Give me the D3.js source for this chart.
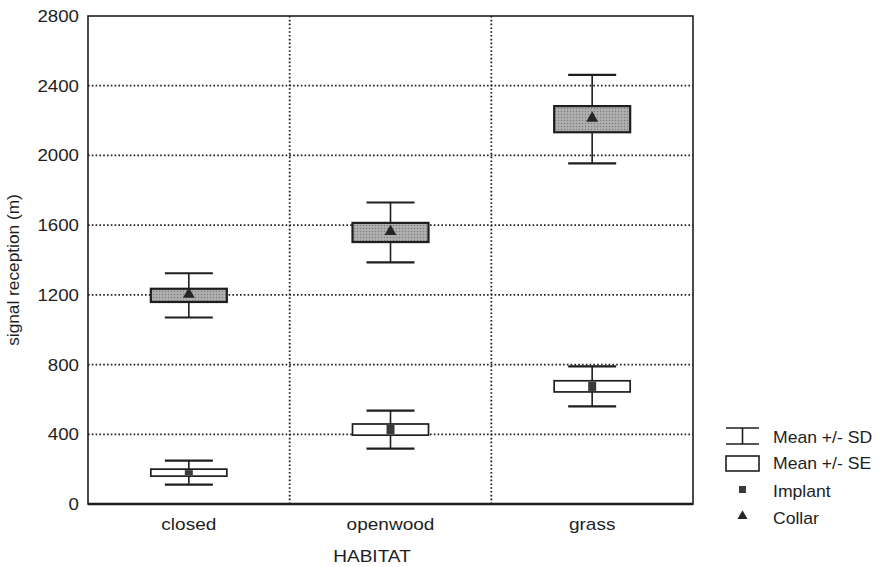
<!DOCTYPE html>
<html><head><meta charset="utf-8">
<script src="https://cdn.jsdelivr.net/npm/d3@7"></script>
<style>html,body{margin:0;padding:0;background:#fff;}svg{display:block;}</style>
</head><body>
<script>
const categories = ["closed", "openwood", "grass"];
const implantMean = [180, 427, 675];
const implantSE = [20, 32, 32];
const implantSD = [69, 109, 115];
const collarMean = [1197, 1558, 2208];
const collarSE = [38, 55, 75];
const collarSD = [127, 172, 254];
const yTicks = [0, 400, 800, 1200, 1600, 2000, 2400, 2800];
const legendLabels = ["Mean +/- SD", "Mean +/- SE", "Implant", "Collar"];

const W = 882, H = 567;
const m = {left: 88, right: 693, top: 16, bottom: 504};
const FONT = "'Liberation Sans', Arial, sans-serif";
const ink = "#1e1e1e";

const svg = d3.select("body").append("svg").attr("width", W).attr("height", H);
const defs = svg.append("defs");
const pat = defs.append("pattern").attr("id", "stip").attr("width", 3).attr("height", 3)
  .attr("patternUnits", "userSpaceOnUse");
pat.append("rect").attr("width", 3).attr("height", 3).attr("fill", "#a8a8a8");
pat.append("rect").attr("x", 0).attr("y", 0).attr("width", 1).attr("height", 1).attr("fill", "#7c7c7c");
pat.append("rect").attr("x", 1.5).attr("y", 1.5).attr("width", 1).attr("height", 1).attr("fill", "#c8c8c8");

const y = d3.scaleLinear().domain([0, 2800]).range([m.bottom, m.top]);
const x = d3.scaleBand().domain(categories).range([m.left, m.right]).padding(0);
const cx = c => x(c) + x.bandwidth() / 2;

function txt(g, xx, yy, s, size, anchor, sx) {
  sx = sx || 1.12;
  return g.append("text")
    .attr("transform", `translate(${xx},${yy}) scale(${sx},1)`)
    .attr("text-anchor", anchor).attr("font-family", FONT).attr("font-size", size)
    .attr("fill", ink).text(s);
}

// grid
const grid = svg.append("g");
yTicks.filter(t => t > 0 && t < 2800).forEach(t => {
  grid.append("line").attr("x1", m.left).attr("x2", m.right).attr("y1", y(t)).attr("y2", y(t))
    .attr("stroke", ink).attr("stroke-width", 1.8).attr("stroke-dasharray", "1.6,2.2");
});
categories.slice(1).forEach(c => {
  grid.append("line").attr("x1", x(c)).attr("x2", x(c)).attr("y1", m.top).attr("y2", m.bottom)
    .attr("stroke", ink).attr("stroke-width", 1.8).attr("stroke-dasharray", "1.6,2.2");
});

// y axis via d3
const yAxis = d3.axisLeft(y).tickValues(yTicks).tickFormat(d3.format("d")).tickSize(0).tickPadding(9);
const ya = svg.append("g").attr("transform", `translate(${m.left},0)`).call(yAxis);
ya.select(".domain").remove();
ya.selectAll(".tick text").attr("font-family", FONT).attr("font-size", 17).attr("fill", ink)
  .attr("transform", "scale(1.1,1)").attr("x", -9 / 1.1);

// x category labels
categories.forEach(c => txt(svg, cx(c), 530, c, 17, "middle"));

// frame
svg.append("rect").attr("x", m.left).attr("y", m.top).attr("width", m.right - m.left)
  .attr("height", m.bottom - m.top).attr("fill", "none").attr("stroke", ink).attr("stroke-width", 1.6);
svg.append("line").attr("x1", m.left).attr("x2", m.right).attr("y1", m.bottom).attr("y2", m.bottom)
  .attr("stroke", ink).attr("stroke-width", 2.4);

// boxes
const boxW = 76, capW = 48;
function drawSeries(means, se, sd, fill, sw) {
  categories.forEach((c, i) => {
    const g = svg.append("g");
    const xc = cx(c);
    g.append("line").attr("x1", xc).attr("x2", xc).attr("y1", y(means[i] + sd[i])).attr("y2", y(means[i] - sd[i]))
      .attr("stroke", ink).attr("stroke-width", 1.6);
    [means[i] + sd[i], means[i] - sd[i]].forEach(v => {
      g.append("line").attr("x1", xc - capW / 2).attr("x2", xc + capW / 2).attr("y1", y(v)).attr("y2", y(v))
        .attr("stroke", ink).attr("stroke-width", 2.2);
    });
    g.append("rect").attr("x", xc - boxW / 2).attr("y", y(means[i] + se[i]))
      .attr("width", boxW).attr("height", y(means[i] - se[i]) - y(means[i] + se[i]))
      .attr("fill", fill).attr("stroke", ink).attr("stroke-width", sw);
  });
}
drawSeries(implantMean, implantSE, implantSD, "#fff", 1.7);
drawSeries(collarMean, collarSE, collarSD, "url(#stip)", 2.2);

// markers
categories.forEach((c, i) => {
  const xc = cx(c);
  svg.append("rect").attr("x", xc - 4).attr("y", y(implantMean[i] + implantSE[i]) + 1)
    .attr("width", 8).attr("height", y(implantMean[i] - implantSE[i]) - y(implantMean[i] + implantSE[i]) - 2)
    .attr("fill", "#3a3a3a");
  svg.append("path").attr("d", d3.symbol().type(d3.symbolTriangle).size(62)())
    .attr("transform", `translate(${xc},${y(collarMean[i]) - 1})`).attr("fill", "#262626");
});

// axis titles
svg.append("text").attr("transform", `translate(19,${(m.top + m.bottom) / 2 + 10}) rotate(-90) scale(1.08,1)`)
  .attr("text-anchor", "middle").attr("font-family", FONT).attr("font-size", 16).attr("fill", ink)
  .text("signal reception (m)");
txt(svg, 372, 562, "HABITAT", 17, "middle");

// legend
const lg = svg.append("g");
const lx0 = 726, lx1 = 759, lxc = 742.5, tx = 773;
lg.append("line").attr("x1", lx0).attr("x2", lx1).attr("y1", 428).attr("y2", 428).attr("stroke", ink).attr("stroke-width", 1.6);
lg.append("line").attr("x1", lx0).attr("x2", lx1).attr("y1", 444).attr("y2", 444).attr("stroke", ink).attr("stroke-width", 1.6);
lg.append("line").attr("x1", lxc).attr("x2", lxc).attr("y1", 428).attr("y2", 444).attr("stroke", ink).attr("stroke-width", 1.6);
lg.append("rect").attr("x", lx0).attr("y", 456).attr("width", lx1 - lx0).attr("height", 15)
  .attr("fill", "#fff").attr("stroke", ink).attr("stroke-width", 1.6);
lg.append("rect").attr("x", lxc - 3.5).attr("y", 486).attr("width", 7).attr("height", 7).attr("fill", "#3a3a3a");
lg.append("path").attr("d", d3.symbol().type(d3.symbolTriangle).size(44)())
  .attr("transform", `translate(${lxc},${516})`).attr("fill", "#262626");
const ly = [443, 469, 497, 524];
legendLabels.forEach((s, i) => txt(lg, tx, ly[i], s, 16, "start", 1.1));
</script>
</body></html>
